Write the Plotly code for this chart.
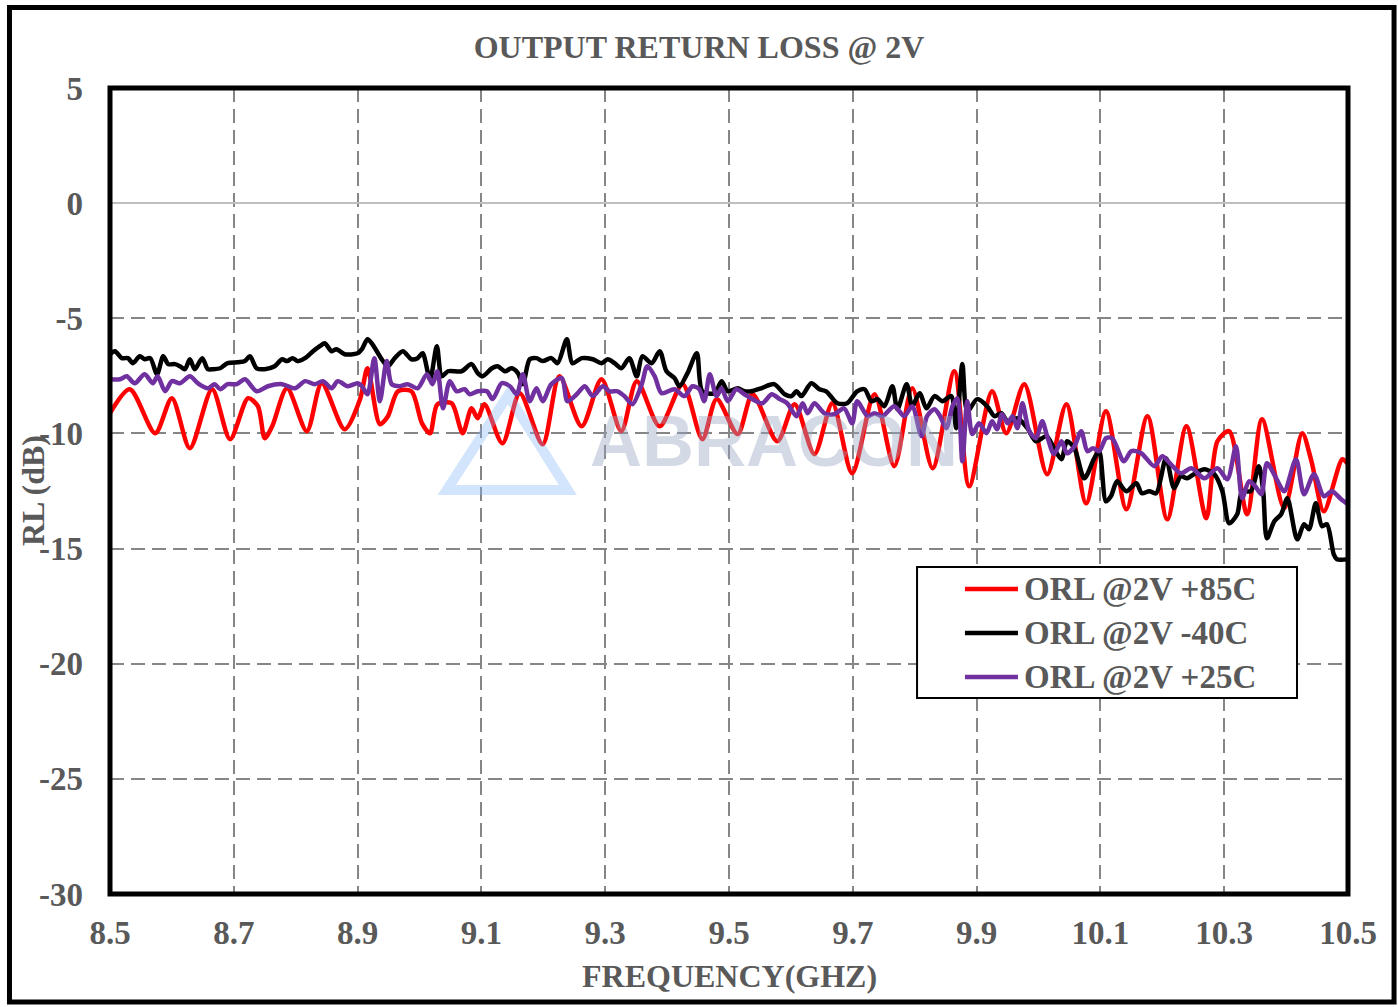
import plotly.graph_objects as go

# ---- Output return loss @ 2V, three temperatures ----
freq_85 = [8.500, 8.532, 8.573, 8.600, 8.629, 8.665, 8.694, 8.723, 8.739, 8.750, 8.762, 8.786,
           8.818, 8.842, 8.879, 8.904, 8.916, 8.936, 8.949, 8.965, 8.987, 9.004, 9.017, 9.029,
           9.052, 9.057, 9.070, 9.084, 9.094, 9.105, 9.134, 9.162, 9.199, 9.226, 9.262, 9.294,
           9.326, 9.351, 9.388, 9.425, 9.457, 9.480, 9.514, 9.538, 9.578, 9.606, 9.638, 9.667,
           9.699, 9.735, 9.767, 9.796, 9.829, 9.864, 9.888, 9.925, 9.948, 9.977, 10.014, 10.045,
           10.077, 10.109, 10.142, 10.176, 10.208, 10.239, 10.271, 10.289, 10.308, 10.337, 10.361,
           10.397, 10.426, 10.441, 10.461, 10.491, 10.500]
rl_85 = [-9.12, -8.08, -9.99, -8.47, -10.64, -8.08, -10.25, -8.47, -8.82, -10.21, -9.69, -8.04,
         -9.90, -7.82, -9.82, -8.51, -7.17, -9.60, -9.25, -8.17, -8.17, -9.56, -9.99, -8.73,
         -8.69, -8.95, -9.99, -8.91, -9.34, -8.73, -10.43, -8.25, -10.47, -7.52, -9.69, -7.65,
         -9.90, -7.73, -9.69, -7.86, -10.25, -8.51, -10.03, -8.30, -10.34, -8.73, -10.90, -8.69,
         -11.73, -8.30, -11.42, -8.04, -11.51, -7.30, -12.29, -8.17, -9.99, -7.86, -11.77, -8.73,
         -13.03, -9.04, -13.29, -9.25, -13.73, -9.69, -13.68, -10.34, -9.90, -13.51, -9.38,
         -13.25, -9.99, -11.21, -13.38, -11.12, -11.34]

freq_m40 = [8.500, 8.508, 8.519, 8.529, 8.537, 8.548, 8.556, 8.565, 8.576, 8.586, 8.594, 8.605,
            8.613, 8.621, 8.629, 8.637, 8.649, 8.658, 8.666, 8.678, 8.690, 8.707, 8.718, 8.726,
            8.737, 8.750, 8.766, 8.778, 8.786, 8.795, 8.803, 8.815, 8.828, 8.839, 8.847, 8.858,
            8.866, 8.879, 8.900, 8.907, 8.916, 8.924, 8.939, 8.949, 8.960, 8.973, 8.987, 8.997,
            9.005, 9.017, 9.028, 9.036, 9.046, 9.068, 9.084, 9.094, 9.102, 9.117, 9.126, 9.138,
            9.149, 9.159, 9.167, 9.178, 9.189, 9.199, 9.213, 9.223, 9.238, 9.247, 9.262, 9.280,
            9.294, 9.304, 9.315, 9.326, 9.339, 9.351, 9.360, 9.375, 9.388, 9.399, 9.412, 9.420,
            9.433, 9.448, 9.457, 9.477, 9.488, 9.498, 9.514, 9.525, 9.536, 9.552, 9.573, 9.590,
            9.601, 9.609, 9.617, 9.633, 9.646, 9.657, 9.675, 9.691, 9.707, 9.719, 9.730, 9.740,
            9.751, 9.764, 9.772, 9.787, 9.796, 9.808, 9.819, 9.832, 9.845, 9.859, 9.867, 9.877,
            9.885, 9.901, 9.917, 9.929, 9.940, 9.950, 9.966, 9.982, 9.996, 10.013, 10.025, 10.037,
            10.046, 10.058, 10.074, 10.090, 10.098, 10.109, 10.117, 10.127, 10.142, 10.158, 10.167,
            10.179, 10.190, 10.206, 10.219, 10.230, 10.240, 10.251, 10.268, 10.284, 10.297, 10.308,
            10.321, 10.329, 10.343, 10.356, 10.363, 10.369, 10.381, 10.392, 10.402, 10.418, 10.429,
            10.437, 10.448, 10.458, 10.466, 10.477, 10.482, 10.500]
rl_m40 = [-6.56, -6.43, -6.73, -6.73, -6.95, -6.65, -6.78, -6.73, -7.43, -6.65, -6.99, -6.99,
          -7.08, -7.21, -6.78, -7.21, -6.73, -7.21, -7.21, -7.17, -6.95, -6.91, -6.86, -6.65,
          -7.17, -7.21, -7.08, -6.78, -6.86, -6.73, -6.86, -6.73, -6.43, -6.21, -6.08, -6.43,
          -6.34, -6.56, -6.52, -6.34, -5.91, -6.13, -6.78, -7.08, -6.73, -6.43, -6.78, -6.73,
          -6.52, -7.65, -6.21, -7.52, -7.30, -7.30, -6.99, -7.38, -7.52, -7.17, -7.08, -7.30,
          -7.17, -7.38, -7.86, -6.78, -6.73, -6.86, -6.73, -6.95, -5.91, -6.95, -6.73, -6.78,
          -6.95, -6.78, -6.95, -7.17, -6.73, -7.52, -6.65, -6.95, -6.43, -7.30, -7.60, -7.95,
          -7.38, -6.52, -8.17, -8.25, -7.73, -8.17, -8.04, -8.17, -8.17, -8.04, -7.86, -8.30,
          -8.38, -8.17, -8.38, -7.82, -8.08, -8.17, -8.69, -8.69, -8.17, -8.08, -8.60, -8.51,
          -8.82, -7.95, -8.95, -7.86, -8.82, -8.25, -8.91, -8.38, -8.60, -8.38, -9.77, -6.99,
          -9.04, -8.51, -8.82, -9.25, -9.12, -9.47, -9.34, -9.77, -10.34, -10.12, -10.64, -11.12,
          -10.34, -10.64, -11.95, -11.08, -10.77, -12.95, -12.73, -12.08, -12.51, -12.16, -12.60,
          -12.51, -12.60, -11.08, -12.38, -11.86, -11.95, -11.77, -11.56, -11.77, -12.51, -13.90,
          -13.51, -12.51, -12.51, -11.42, -12.51, -14.55, -13.81, -13.51, -12.82, -14.60, -13.94,
          -14.16, -13.03, -14.03, -13.94, -15.25, -15.46, -15.46]

freq_25 = [8.500, 8.516, 8.527, 8.540, 8.556, 8.569, 8.577, 8.589, 8.600, 8.613, 8.629, 8.642,
           8.658, 8.669, 8.678, 8.690, 8.705, 8.718, 8.737, 8.755, 8.778, 8.799, 8.815, 8.831,
           8.844, 8.858, 8.868, 8.884, 8.900, 8.907, 8.916, 8.927, 8.936, 8.947, 8.955, 8.968,
           8.981, 8.997, 9.012, 9.021, 9.029, 9.038, 9.049, 9.060, 9.073, 9.081, 9.094, 9.109,
           9.118, 9.133, 9.146, 9.157, 9.167, 9.178, 9.189, 9.199, 9.213, 9.230, 9.239, 9.254,
           9.267, 9.280, 9.296, 9.307, 9.320, 9.331, 9.344, 9.359, 9.368, 9.380, 9.391, 9.412,
           9.428, 9.441, 9.452, 9.460, 9.469, 9.480, 9.488, 9.498, 9.512, 9.525, 9.538, 9.554,
           9.569, 9.582, 9.594, 9.609, 9.619, 9.627, 9.638, 9.654, 9.670, 9.686, 9.699, 9.707,
           9.724, 9.735, 9.748, 9.767, 9.783, 9.796, 9.811, 9.820, 9.832, 9.841, 9.851, 9.861,
           9.869, 9.877, 9.885, 9.893, 9.904, 9.916, 9.925, 9.933, 9.941, 9.950, 9.958, 9.966,
           9.974, 9.985, 9.996, 10.006, 10.014, 10.025, 10.037, 10.046, 10.058, 10.069, 10.079,
           10.088, 10.098, 10.109, 10.119, 10.138, 10.150, 10.166, 10.187, 10.200, 10.214, 10.230,
           10.247, 10.268, 10.289, 10.305, 10.319, 10.329, 10.340, 10.350, 10.360, 10.369, 10.384,
           10.397, 10.416, 10.429, 10.445, 10.461, 10.474, 10.489, 10.500]
rl_25 = [-7.65, -7.65, -7.52, -7.82, -7.43, -7.82, -7.52, -8.17, -7.73, -7.82, -7.52, -7.82,
         -8.04, -7.86, -8.08, -7.86, -7.86, -7.65, -8.17, -7.95, -7.86, -8.04, -7.73, -7.86,
         -7.73, -8.04, -7.73, -7.95, -7.82, -7.95, -8.30, -6.73, -8.60, -6.86, -7.86, -7.95,
         -7.86, -8.04, -7.43, -7.86, -7.30, -8.91, -7.73, -8.17, -8.08, -8.30, -8.17, -8.17,
         -8.51, -7.82, -7.95, -8.30, -7.43, -8.60, -8.04, -8.60, -7.86, -7.60, -8.60, -8.30,
         -7.95, -8.38, -7.95, -8.17, -8.17, -8.38, -8.73, -7.86, -7.08, -7.52, -8.25, -8.08,
         -8.38, -7.95, -8.08, -8.60, -7.43, -8.38, -8.04, -8.60, -8.08, -8.30, -8.51, -8.69,
         -8.30, -8.51, -8.69, -9.25, -8.69, -9.12, -8.69, -9.12, -9.17, -8.91, -9.56, -8.60,
         -9.25, -9.12, -9.25, -8.82, -9.25, -8.82, -10.12, -9.25, -8.95, -9.25, -9.77, -8.82,
         -8.47, -11.21, -8.60, -10.03, -9.56, -9.99, -9.47, -9.82, -9.17, -9.56, -9.25, -9.77,
         -8.69, -9.90, -10.21, -9.47, -10.12, -10.90, -10.34, -10.86, -10.56, -9.90, -10.77,
         -10.64, -10.77, -10.21, -10.21, -11.21, -10.77, -10.86, -11.42, -10.99, -11.34, -11.73,
         -11.51, -11.95, -11.51, -11.99, -10.56, -12.82, -12.08, -12.29, -12.64, -11.29, -11.95,
         -12.51, -11.12, -12.64, -11.77, -12.73, -12.51, -12.86, -13.08]

series_names = ["ORL @2V +85C", "ORL @2V -40C", "ORL @2V +25C"]
series_colors = ["#FF0000", "#000000", "#7030A0"]

x_ticks = [8.5, 8.7, 8.9, 9.1, 9.3, 9.5, 9.7, 9.9, 10.1, 10.3, 10.5]
y_ticks = [5, 0, -5, -10, -15, -20, -25, -30]

TEXT_GRAY = "#595959"
SERIF = "Liberation Serif"
LINE_W = 4.5

fig = go.Figure()
for xs, ys, name, color in zip([freq_85, freq_m40, freq_25], [rl_85, rl_m40, rl_25],
                               series_names, series_colors):
    fig.add_trace(go.Scatter(
        x=xs, y=ys, mode="lines", name=name, showlegend=False,
        line=dict(color=color, width=LINE_W, shape="spline", smoothing=0.8),
    ))

grid = dict(showgrid=True, gridcolor="#868686", gridwidth=1.5, griddash="14px,7px")
tick_font = dict(family=SERIF, size=33, color=TEXT_GRAY, weight="bold")

fig.update_xaxes(
    range=[8.5, 10.5], tickvals=x_ticks, ticktext=[f"{v:g}" for v in x_ticks],
    ticks="", ticklabelstandoff=16, showline=False, zeroline=False,
    tickfont=tick_font, **grid,
)
fig.update_yaxes(
    range=[-30, 5], tickvals=y_ticks, ticktext=[str(v) for v in y_ticks],  # plain hyphen minus
    ticks="", ticklabelstandoff=26, showline=False,
    zeroline=True, zerolinecolor="#BFBFBF", zerolinewidth=2,
    tickfont=tick_font, **grid,
)

# plot-area frame and outer chart frame
shapes = [
    dict(type="rect", xref="paper", yref="paper", x0=0, x1=1, y0=0, y1=1,
         line=dict(color="black", width=5), layer="above"),
    dict(type="rect", xref="paper", yref="paper", x0=-0.0812, x1=1.0372, y0=-0.134, y1=1.0999,
         line=dict(color="black", width=5), layer="above"),
    # faint logo mark beside the brand watermark
    dict(type="path", xref="x", yref="y",
         path="M 9.044,-12.46 L 9.143,-8.34 L 9.2396,-12.46 Z",
         line=dict(color="rgba(130,180,245,0.35)", width=10), layer="above"),
]

annotations = [
    dict(text="ABRACON", x=9.573, y=-10.35, xref="x", yref="y", showarrow=False,
         font=dict(family="Liberation Sans", size=72, color="rgba(150,164,192,0.42)", weight="bold")),
    dict(text="RL (dB)", x=-0.0621, y=0.5, xref="paper", yref="paper", showarrow=False,
         xanchor="center", yanchor="middle", textangle=-90,
         font=dict(family=SERIF, size=32, color=TEXT_GRAY, weight="bold")),
    dict(text="FREQUENCY(GHZ)", x=0.5, y=-0.1017, xref="paper", yref="paper", showarrow=False,
         yanchor="middle", font=dict(family=SERIF, size=32, color=TEXT_GRAY, weight="bold")),
]

# boxed legend in the lower right of the plot area
legend_box = dict(x0=0.6519, x1=0.9588, y0=0.2432, y1=0.4057)
legend_rows_y = [0.3784, 0.3238, 0.2692]
sample_x0, sample_x1, label_x = 0.6906, 0.7334, 0.7367

shapes.append(dict(type="rect", xref="paper", yref="paper", **legend_box,
                   fillcolor="white", line=dict(color="black", width=2), layer="above"))
for name, color, ry in zip(series_names, series_colors, legend_rows_y):
    shapes.append(dict(type="line", xref="paper", yref="paper",
                       x0=sample_x0, x1=sample_x1, y0=ry, y1=ry,
                       line=dict(color=color, width=LINE_W), layer="above"))
    annotations.append(dict(text=name, x=label_x, y=ry, xref="paper", yref="paper",
                            xanchor="left", yanchor="middle", showarrow=False,
                            font=dict(family=SERIF, size=33, color=TEXT_GRAY, weight="bold")))

fig.update_layout(
    width=1398, height=1007,
    margin=dict(l=110, r=50, t=88, b=113),
    paper_bgcolor="white", plot_bgcolor="white",
    title=dict(text="OUTPUT RETURN LOSS @ 2V", x=0.5, xref="container", xanchor="center",
               y=0.954, yanchor="middle",
               font=dict(family=SERIF, size=32, color=TEXT_GRAY, weight="bold")),
    shapes=shapes, annotations=annotations, showlegend=False,
)

fig.write_html("out.html")
